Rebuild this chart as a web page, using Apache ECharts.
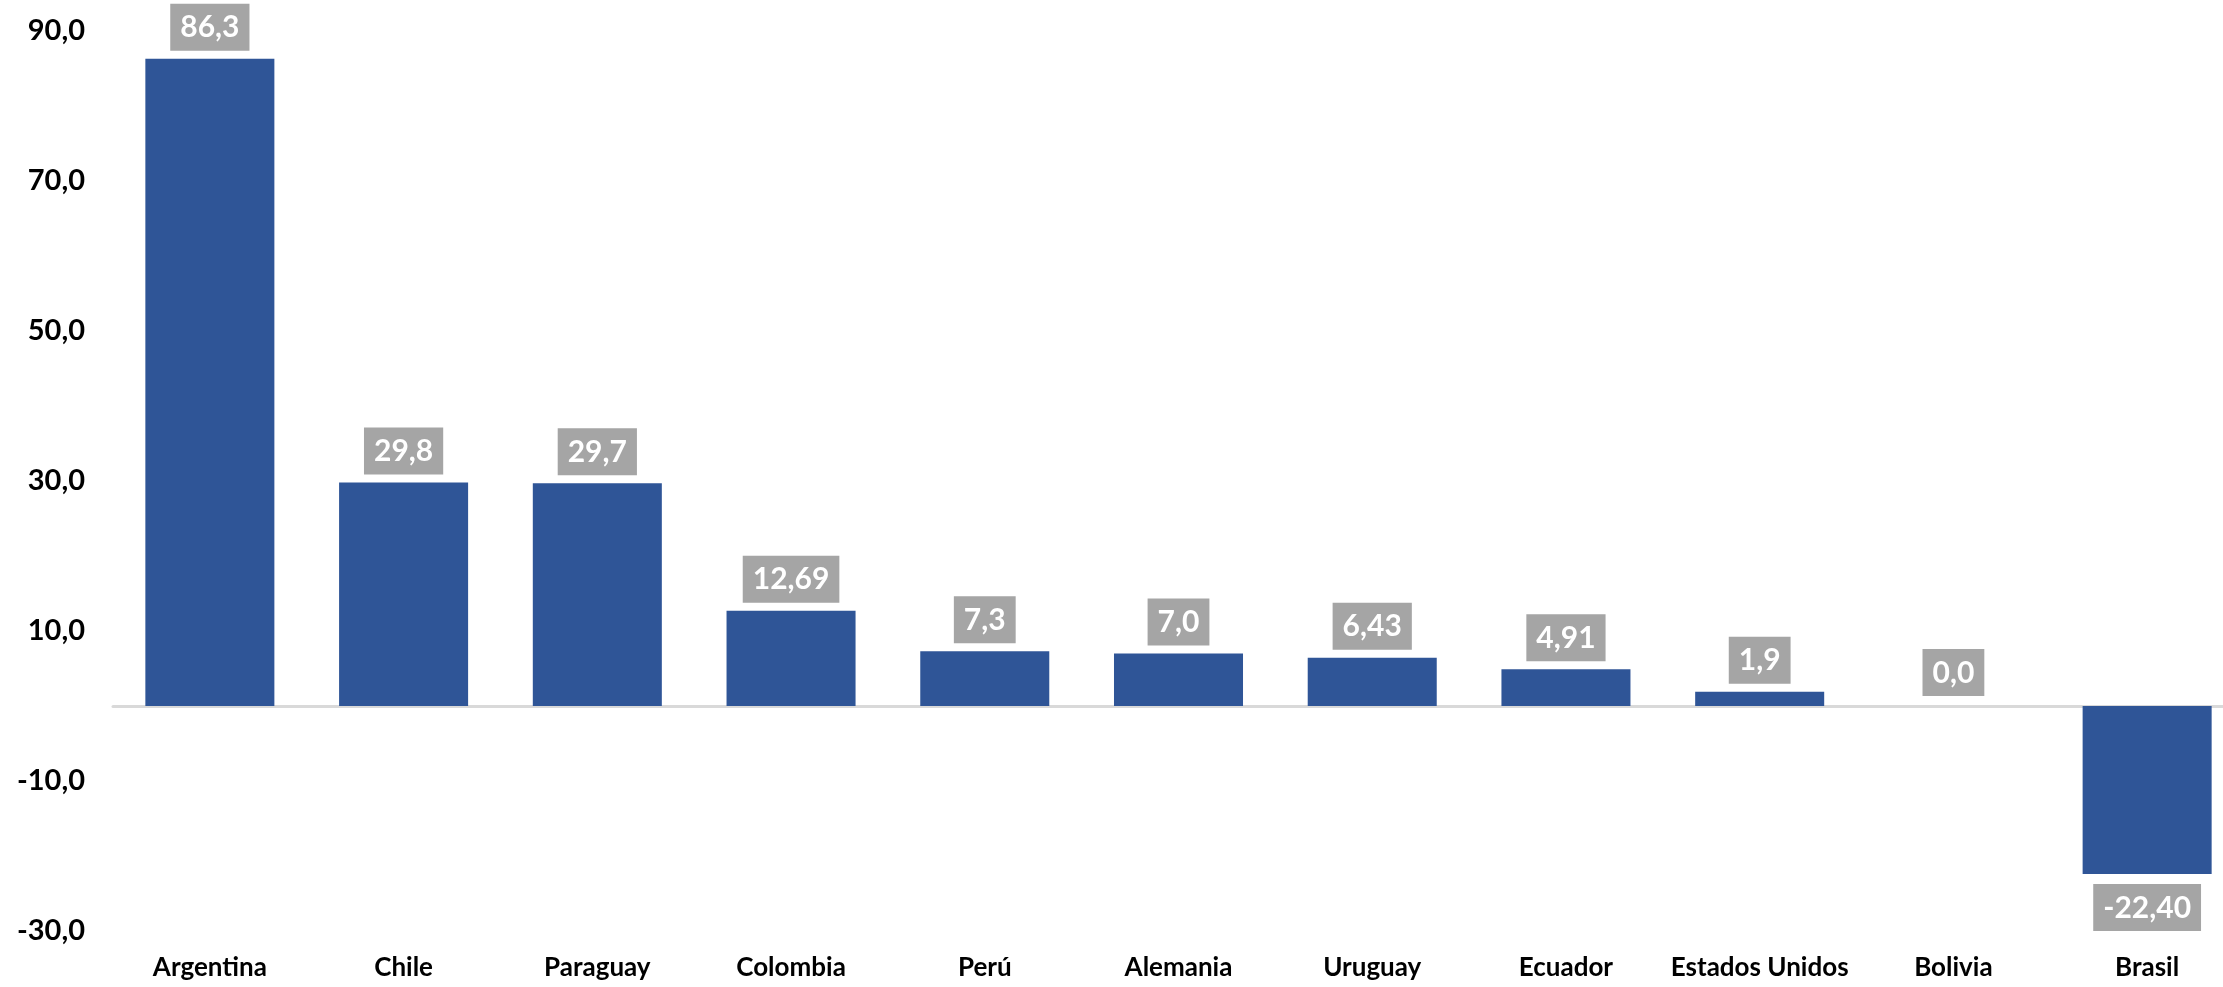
<!DOCTYPE html>
<html>
<head>
<meta charset="utf-8">
<script src="https://cdn.jsdelivr.net/npm/echarts@6/dist/echarts.min.js"></script>
<style>
html,body{margin:0;padding:0;background:#fff;overflow:hidden;}
#chart{width:2244px;height:987px;}
</style>
</head>
<body>
<div id="chart"></div>
<script>
const categories = ['Argentina','Chile','Paraguay','Colombia','Perú','Alemania','Uruguay','Ecuador','Estados Unidos','Bolivia','Brasil'];
const values = [86.3, 29.8, 29.7, 12.69, 7.3, 7.0, 6.43, 4.91, 1.9, 0.0, -22.40];
const valueLabels = ['86,3','29,8','29,7','12,69','7,3','7,0','6,43','4,91','1,9','0,0','-22,40'];
const yMin = -30, yMax = 90, yStep = 20;

const chart = echarts.init(document.getElementById('chart'));
const FONT = 'Lato, "Open Sans", sans-serif';

const barData = values.map(v => {
  if (v < 0) return {value: v, label: {position: 'bottom', distance: 10}};
  if (v === 0) return {value: v, label: {distance: 10}};
  return v;
});

chart.setOption({
  animation: false,
  grid: {left: 113, top: 31, right: 0, bottom: 56, containLabel: false},
  xAxis: [{
    type: 'category', data: categories,
    axisLine: {onZero: true, lineStyle: {color: '#D9D9D9', width: 3}},
    axisTick: {show: false},
    axisLabel: {show: false}
  }, {
    type: 'category', data: categories, position: 'bottom',
    axisLine: {show: false, onZero: false}, axisTick: {show: false},
    axisLabel: {interval: 0, color: '#000', fontFamily: FONT, fontSize: 26, fontWeight: 'bold', margin: 24}
  }],
  yAxis: {
    type: 'value', min: yMin, max: yMax, interval: yStep,
    axisLine: {show: false}, axisTick: {show: false},
    splitLine: {show: false},
    axisLabel: {
      color: '#000', fontFamily: FONT, fontSize: 29, fontWeight: 'bold', margin: 28,
      formatter: v => v.toFixed(1).replace('.', ',')
    }
  },
  series: [{
    type: 'bar',
    xAxisIndex: 0,
    data: barData,
    barCategoryGap: '33.4%',
    itemStyle: {color: '#2F5597'},
    label: {
      show: true,
      formatter: p => valueLabels[p.dataIndex],
      position: 'top',
      distance: 8,
      color: '#fff', fontFamily: FONT, fontSize: 30, fontWeight: 'bold',
      backgroundColor: '#A5A5A5',
      padding: [6, 10, 5, 10],
      lineHeight: 36
    }
  }]
});
</script>
</body>
</html>
